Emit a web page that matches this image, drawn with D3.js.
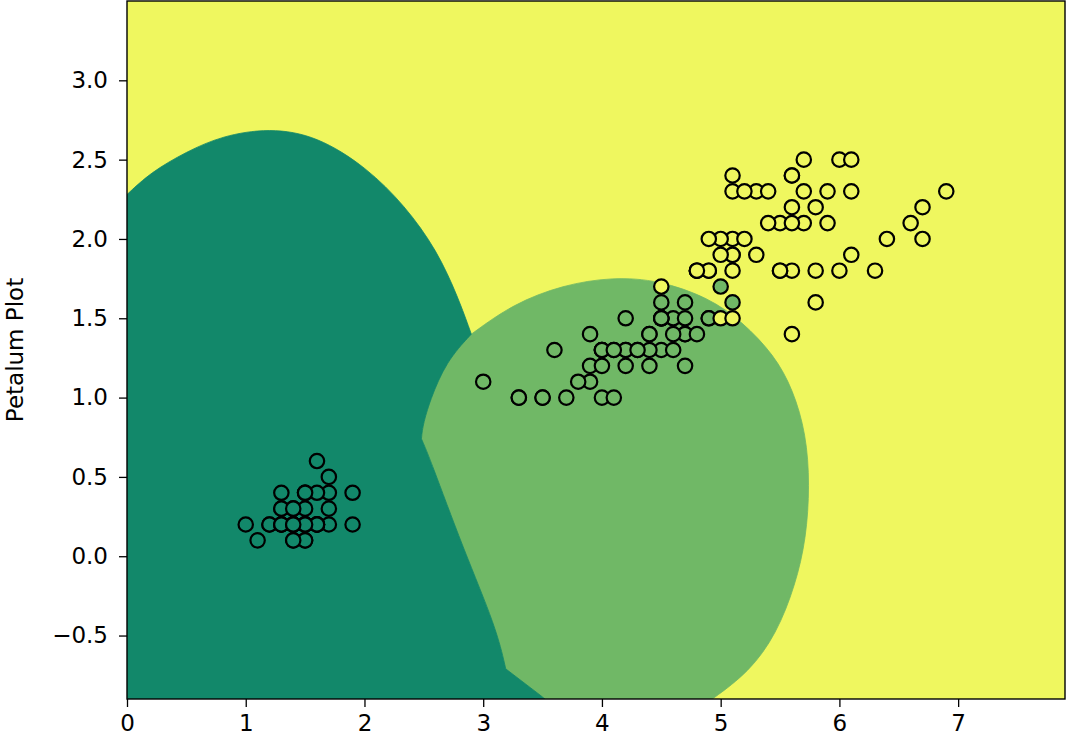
<!DOCTYPE html>
<html>
<head>
<meta charset="utf-8">
<script src="https://cdn.jsdelivr.net/npm/d3@7"></script>
<style>
  body { margin: 0; background: #fff; }
  text { font-family: "DejaVu Sans", sans-serif; }
</style>
</head>
<body>
<div id="chart"></div>
<script>
// DATA: iris petal length / width per species
const setosaLength = [1.4,1.4,1.3,1.5,1.4,1.7,1.4,1.5,1.4,1.5,1.5,1.6,1.4,1.1,1.2,1.5,1.3,1.4,1.7,1.5,
                      1.7,1.5,1.0,1.7,1.9,1.6,1.6,1.5,1.4,1.6,1.6,1.5,1.5,1.4,1.5,1.2,1.3,1.4,1.3,1.5,
                      1.3,1.3,1.3,1.6,1.9,1.4,1.6,1.4,1.5,1.4];
const setosaWidth  = [0.2,0.2,0.2,0.2,0.2,0.4,0.3,0.2,0.2,0.1,0.2,0.2,0.1,0.1,0.2,0.4,0.4,0.3,0.3,0.3,
                      0.2,0.4,0.2,0.5,0.2,0.2,0.4,0.2,0.2,0.2,0.2,0.4,0.1,0.2,0.2,0.2,0.2,0.1,0.2,0.2,
                      0.3,0.3,0.2,0.6,0.4,0.3,0.2,0.2,0.2,0.2];
const versicolorLength = [4.7,4.5,4.9,4.0,4.6,4.5,4.7,3.3,4.6,3.9,3.5,4.2,4.0,4.7,3.6,4.4,4.5,4.1,4.5,3.9,
                          4.8,4.0,4.9,4.7,4.3,4.4,4.8,5.0,4.5,3.5,3.8,3.7,3.9,5.1,4.5,4.5,4.7,4.4,4.1,4.0,
                          4.4,4.6,4.0,3.3,4.2,4.2,4.2,4.3,3.0,4.1];
const versicolorWidth  = [1.4,1.5,1.5,1.3,1.5,1.3,1.6,1.0,1.3,1.4,1.0,1.5,1.0,1.4,1.3,1.4,1.5,1.0,1.5,1.1,
                          1.8,1.3,1.5,1.2,1.3,1.4,1.4,1.7,1.5,1.0,1.1,1.0,1.2,1.6,1.5,1.6,1.5,1.3,1.3,1.3,
                          1.2,1.4,1.2,1.0,1.3,1.2,1.3,1.3,1.1,1.3];
const virginicaLength = [6.0,5.1,5.9,5.6,5.8,6.6,4.5,6.3,5.8,6.1,5.1,5.3,5.5,5.0,5.1,5.3,5.5,6.7,6.9,5.0,
                         5.7,4.9,6.7,4.9,5.7,6.0,4.8,4.9,5.6,5.8,6.1,6.4,5.6,5.1,5.6,6.1,5.6,5.5,4.8,5.4,
                         5.6,5.1,5.1,5.9,5.7,5.2,5.0,5.2,5.4,5.1];
const virginicaWidth  = [2.5,1.9,2.1,1.8,2.2,2.1,1.7,1.8,1.8,2.5,2.0,1.9,2.1,2.0,2.4,2.3,1.8,2.2,2.3,1.5,
                         2.3,2.0,2.0,1.8,2.1,1.8,1.8,1.8,2.1,1.6,1.9,2.0,2.2,1.5,1.4,2.3,2.4,1.8,1.8,2.1,
                         2.4,2.3,1.9,2.3,2.5,2.3,1.9,2.0,2.3,1.8];

// decision regions, boundary points (petal length, petal width)
const setosaTop = [[0,2.28],[0.2,2.42],[0.5,2.55],[0.8,2.65],[1.2,2.70],[1.6,2.65],[2.02,2.45],[2.34,2.21],
                   [2.61,1.93],[2.79,1.63],[2.90,1.40]];
const edgeUpper = [[2.90,1.40],[2.69,1.23],[2.55,0.98],[2.49,0.82],[2.48,0.74]];
const edgeLower = [[2.48,0.74],[2.55,0.62],[2.83,0.05],[3.11,-0.45],[3.19,-0.71]];
const edgeFoot  = [[3.19,-0.71],[3.47,-0.87],[3.52,-0.9]];
const versicolorTop = [[2.90,1.40],[3.25,1.59],[3.67,1.71],[4.09,1.76],[4.48,1.74],[4.90,1.63],[5.18,1.48],
                       [5.45,1.27],[5.61,1.05],[5.72,0.77],[5.75,0.45],[5.72,0.11],[5.63,-0.18],[5.47,-0.49],
                       [5.24,-0.73],[4.93,-0.9]];

const xDomain = [0, 7.9];
const yDomain = [-0.9, 3.5];
const xTicks = [0, 1, 2, 3, 4, 5, 6, 7];
const yTicks = [-0.5, 0.0, 0.5, 1.0, 1.5, 2.0, 2.5, 3.0];
const classColors = ["#12886a", "#70b866", "#eff75f"];

// SETUP
const W = 1066, H = 744;
const plot = { left: 127, right: 1065, top: 1, bottom: 699 };

const svg = d3.select("#chart")
  .append("svg")
    .attr("width", W)
    .attr("height", H);

const x = d3.scaleLinear().domain(xDomain).range([plot.left, plot.right]);
const y = d3.scaleLinear().domain(yDomain).range([plot.bottom, plot.top]);

svg.append("clipPath").attr("id", "clip")
  .append("rect")
    .attr("x", plot.left).attr("y", plot.top)
    .attr("width", plot.right - plot.left).attr("height", plot.bottom - plot.top);

const area = svg.append("g").attr("clip-path", "url(#clip)");

// 1: BACKGROUND (virginica region)
area.append("rect")
  .attr("x", plot.left).attr("y", plot.top)
  .attr("width", plot.right - plot.left).attr("height", plot.bottom - plot.top)
  .attr("fill", classColors[2]);

// 2: REGIONS - smooth pieces joined at the corners
const smooth = d3.line().x(d => x(d[0])).y(d => y(d[1])).curve(d3.curveBasis);
const straight = d3.line().x(d => x(d[0])).y(d => y(d[1]));
const rev = a => a.slice().reverse();

function joinPieces(pieces) {
  return pieces.map((p, i) => {
    const s = (p.curved ? smooth : straight)(p.pts);
    return i === 0 ? s : "L" + s.slice(1);
  }).join("") + "Z";
}

const versicolorPath = joinPieces([
  { pts: versicolorTop, curved: true },
  { pts: rev(edgeFoot), curved: false },
  { pts: rev(edgeLower), curved: true },
  { pts: rev(edgeUpper), curved: true }
]);

const setosaPath = joinPieces([
  { pts: [[xDomain[0], yDomain[0]], setosaTop[0]], curved: false },
  { pts: setosaTop, curved: true },
  { pts: edgeUpper, curved: true },
  { pts: edgeLower, curved: true },
  { pts: edgeFoot, curved: false }
]);

area.append("path")
  .attr("d", versicolorPath)
  .attr("fill", classColors[1])
  .attr("stroke", classColors[1])
  .attr("stroke-width", 0.8);

area.append("path")
  .attr("d", setosaPath)
  .attr("fill", classColors[0])
  .attr("stroke", classColors[0])
  .attr("stroke-width", 0.8);

// 3: POINTS
const groups = [
  [setosaLength, setosaWidth],
  [versicolorLength, versicolorWidth],
  [virginicaLength, virginicaWidth]
];
const points = [];
groups.forEach((g, k) => g[0].forEach((len, i) => points.push({ len, wid: g[1][i], k })));

area.selectAll("circle")
  .data(points)
  .join("circle")
    .attr("cx", d => x(d.len))
    .attr("cy", d => y(d.wid))
    .attr("r", 7.2)
    .attr("fill", d => classColors[d.k])
    .attr("stroke", "#000")
    .attr("stroke-width", 2.2);

// 4: AXES
const fmt = d3.format(".1f");

const xAxis = svg.append("g")
  .attr("transform", `translate(0,${plot.bottom})`)
  .call(d3.axisBottom(x).tickValues(xTicks).tickFormat(d3.format("d")).tickSize(8).tickPadding(8).tickSizeOuter(0));

const yAxis = svg.append("g")
  .attr("transform", `translate(${plot.left},0)`)
  .call(d3.axisLeft(y).tickValues(yTicks).tickFormat(fmt).tickSize(8).tickPadding(11).tickSizeOuter(0));

[xAxis, yAxis].forEach(a => {
  a.select(".domain").remove();
  a.selectAll(".tick line").attr("stroke", "#000").attr("stroke-width", 1.3);
  a.selectAll(".tick text")
    .attr("fill", "#000")
    .style("font-family", "DejaVu Sans")
    .style("font-size", "23px");
});

// frame
svg.append("rect")
  .attr("x", plot.left).attr("y", plot.top)
  .attr("width", plot.right - plot.left).attr("height", plot.bottom - plot.top)
  .attr("fill", "none")
  .attr("stroke", "#000")
  .attr("stroke-width", 1.4);

// 5: LABEL
svg.append("text")
  .attr("transform", `translate(23,${(plot.top + plot.bottom) / 2}) rotate(-90)`)
  .attr("text-anchor", "middle")
  .style("font-size", "23px")
  .attr("fill", "#000")
  .text("Petalum Plot");
</script>
</body>
</html>
